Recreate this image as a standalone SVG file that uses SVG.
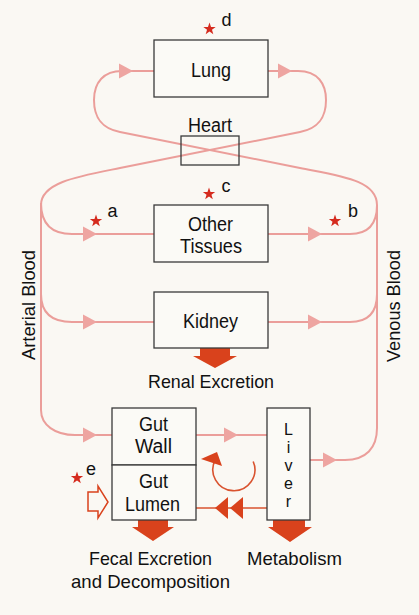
<svg xmlns="http://www.w3.org/2000/svg" xmlns:xlink="http://www.w3.org/1999/xlink" width="419" height="615" viewBox="0 0 419 615">
<style>
.box{fill:#fbfaf6;stroke:#3a3a3a;stroke-width:1.3}
.lbl{font-family:"Liberation Sans",Arial,sans-serif;font-size:20px;fill:#111;text-anchor:middle}
.lv{font-family:"Liberation Sans",Arial,sans-serif;font-size:16px;fill:#111;text-anchor:middle}
.cap{font-family:"Liberation Sans",Arial,sans-serif;font-size:19px;fill:#111;text-anchor:middle}
.let{font-family:"Liberation Sans",Arial,sans-serif;font-size:18px;fill:#111;text-anchor:middle}
.pk{fill:none;stroke:#eb9e9a;stroke-width:2}
.pkh{fill:#eea5a1}
.rd{fill:none;stroke:#d9532f;stroke-width:1.6}
.rdf{fill:#d9421c}
.star{fill:#d52b1e}
</style>
<defs>
<path id="ah" d="M0,0 L-14,-7.5 L-14,7.5 Z"/>
<path id="st" d="M0,-6.5 L1.53,-2.1 L6.18,-2.01 L2.47,0.8 L3.82,5.26 L0,2.6 L-3.82,5.26 L-2.47,0.8 L-6.18,-2.01 L-1.53,-2.1 Z"/>
</defs>
<rect x="0" y="0" width="419" height="615" fill="#faf8f3"/>

<g id="connectors">
<path class="pk" d="M310,460 H345 C366,460 377,448 377,428 V205 C377,180 340,176 300,168 L120,132 C100,128 94,116 94,100 C94,82 104,71 122,71 H154"/>
<path class="pk" d="M268,71 H298 C318,71 326,84 326,100 C326,116 320,128 300,132 L120,168 C80,176 41,182 41,205 V410 C41,425 55,435 75,435 H112"/>
<path class="pk" d="M41,203 C41,224 52,234 72,234 H154"/>
<path class="pk" d="M268,234 H350 C368,234 377,224 377,205"/>
<path class="pk" d="M41,294 C41,313 52,322 72,322 H154"/>
<path class="pk" d="M268,322 H350 C368,322 377,312 377,294"/>
<path class="pk" d="M196,435 H267"/>
<use href="#ah" class="pkh" x="133" y="71"/>
<use href="#ah" class="pkh" x="292" y="71"/>
<use href="#ah" class="pkh" x="97" y="234"/>
<use href="#ah" class="pkh" x="322" y="234"/>
<use href="#ah" class="pkh" x="97" y="322"/>
<use href="#ah" class="pkh" x="322" y="322"/>
<use href="#ah" class="pkh" x="97" y="435"/>
<use href="#ah" class="pkh" x="238" y="435"/>
<use href="#ah" class="pkh" x="337" y="460"/>
<path class="rd" d="M267,508 H196"/>
<polygon class="rdf" points="215,508 228,497 228,519"/>
<polygon class="rdf" points="230,508 243,497 243,519"/>
<path class="rd" d="M253.2,461.5 A21,21 0 1 1 215.5,459.5"/>
<polygon class="rdf" points="201,459 217,452 222,466"/>
<polygon class="rdf" points="200,348 230,348 230,356 237,356 215,368 193,356 200,356"/>
<polygon class="rdf" points="138,520 168,520 168,527 174,527 153,541 132,527 138,527"/>
<polygon class="rdf" points="273,520 305,520 305,527 312,527 290,542 268,527 273,527"/>
<polygon points="88,492 98,492 98,486 108,502 98,518 98,511 88,511" fill="none" stroke="#d9421c" stroke-width="1.5"/>
</g>

<g id="lung">
<rect class="box" x="154" y="40" width="114" height="57"/>
<text class="lbl" x="211" y="77" textLength="40" lengthAdjust="spacingAndGlyphs">Lung</text>
</g>
<g id="heart">
<rect x="181" y="136" width="58" height="29" fill="none" stroke="#3a3a3a" stroke-width="1.3"/>
<text class="lbl" x="210" y="132" textLength="44" lengthAdjust="spacingAndGlyphs">Heart</text>
</g>
<g id="other-tissues">
<rect class="box" x="154" y="205" width="114" height="57"/>
<text class="lbl" x="210.5" y="231" textLength="45" lengthAdjust="spacingAndGlyphs">Other</text>
<text class="lbl" x="211" y="253" textLength="62" lengthAdjust="spacingAndGlyphs">Tissues</text>
</g>
<g id="kidney">
<rect class="box" x="154" y="292" width="114" height="56"/>
<text class="lbl" x="210.5" y="328" textLength="55" lengthAdjust="spacingAndGlyphs">Kidney</text>
</g>
<g id="gut-wall">
<rect class="box" x="112" y="408" width="84" height="57"/>
<text class="lbl" x="153.5" y="431" textLength="29" lengthAdjust="spacingAndGlyphs">Gut</text>
<text class="lbl" x="153.5" y="453" textLength="37" lengthAdjust="spacingAndGlyphs">Wall</text>
</g>
<g id="gut-lumen">
<rect class="box" x="112" y="465" width="84" height="55"/>
<text class="lbl" x="153.5" y="488" textLength="29" lengthAdjust="spacingAndGlyphs">Gut</text>
<text class="lbl" x="152.5" y="511" textLength="55" lengthAdjust="spacingAndGlyphs">Lumen</text>
</g>
<g id="liver">
<rect class="box" x="267" y="408" width="43" height="112"/>
<text class="lv" x="288.5" y="435">L</text>
<text class="lv" x="288.5" y="453">i</text>
<text class="lv" x="288.5" y="471">v</text>
<text class="lv" x="288.5" y="489">e</text>
<text class="lv" x="288.5" y="507">r</text>
</g>

<g id="labels">
<text class="cap" x="211" y="388" textLength="126" lengthAdjust="spacingAndGlyphs">Renal Excretion</text>
<text class="cap" x="150.5" y="565" textLength="123" lengthAdjust="spacingAndGlyphs">Fecal Excretion</text>
<text class="cap" x="150.5" y="588" textLength="159" lengthAdjust="spacingAndGlyphs">and Decomposition</text>
<text class="cap" x="294.5" y="565" textLength="95" lengthAdjust="spacingAndGlyphs">Metabolism</text>
<text class="cap" transform="translate(35,305) rotate(-90)" x="0" y="0" textLength="110" lengthAdjust="spacingAndGlyphs">Arterial Blood</text>
<text class="cap" transform="translate(400,306) rotate(-90)" x="0" y="0" textLength="112" lengthAdjust="spacingAndGlyphs">Venous Blood</text>
</g>

<g id="markers">
<use href="#st" class="star" x="209.5" y="29"/>
<text class="let" x="226.5" y="26">d</text>
<use href="#st" class="star" x="209" y="194"/>
<text class="let" x="226" y="192">c</text>
<use href="#st" class="star" x="96" y="221"/>
<text class="let" x="112.5" y="217">a</text>
<use href="#st" class="star" x="335" y="221"/>
<text class="let" x="353" y="217">b</text>
<use href="#st" class="star" x="77" y="478"/>
<text class="let" x="91" y="475">e</text>
</g>
</svg>
